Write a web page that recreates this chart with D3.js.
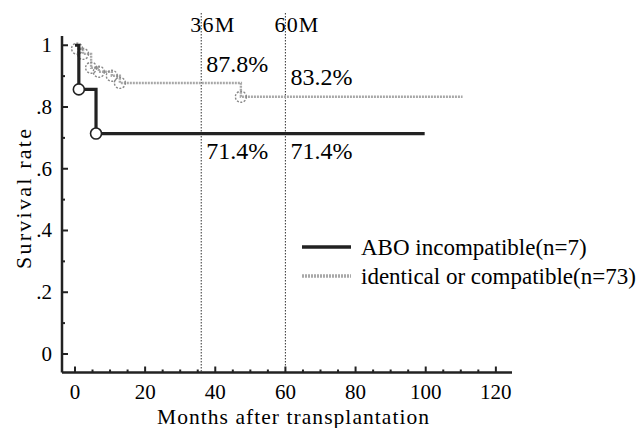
<!DOCTYPE html>
<html>
<head>
<meta charset="utf-8">
<script src="https://cdn.jsdelivr.net/npm/d3@7"></script>
<style>
  body { margin: 0; background: #fff; }
</style>
</head>
<body>
<div class="vis-km"></div>
<script>
// step data (months, survival after the event)
const aboMonths = [0, 1.1, 6.0, 99.7];
const aboSurv = [1, 0.857, 0.714, 0.714];
const compMonths = [0, 0.6, 2.3, 4.6, 6.8, 10.5, 12.8, 47.3, 110.5];
const compSurv = [1, 0.989, 0.972, 0.927, 0.914, 0.901, 0.878, 0.833, 0.833];

const refMonths = [36, 60];
const refLabels = ["36M", "60M"];
const compAtRef = ["87.8%", "83.2%"];
const aboAtRef = ["71.4%", "71.4%"];

const yTickVals = [0, 0.2, 0.4, 0.6, 0.8, 1];
const yTickLabels = ["0", ".2", ".4", ".6", ".8", "1"];
const xTickVals = [0, 20, 40, 60, 80, 100, 120];

const legendNames = ["ABO incompatible(n=7)", "identical or compatible(n=73)"];

const W = 640, H = 428;
const FONT = "'Liberation Serif', 'Times New Roman', Times, 'DejaVu Serif', serif";
const svg = d3.select('.vis-km').append('svg')
    .attr('width', W).attr('height', H)
    .attr('font-family', FONT)
    .style('font-family', FONT);

const x = d3.scaleLinear().domain([-3.7, 124.6]).range([62, 512]);
const y = d3.scaleLinear().domain([-0.06, 1.03]).range([372.5, 36]);

// reference lines at 36M / 60M
refMonths.forEach(function(m, i) {
    const lx = x(m);
    svg.append("line")
        .attr("x1", lx).attr("x2", lx)
        .attr("y1", 13).attr("y2", y(-0.06))
        .attr("stroke", "#444").attr("stroke-width", 1.1)
        .attr("stroke-dasharray", "1.5,1.5");
    svg.append("text").attr("x", lx - 11).attr("y", 32)
        .text(refLabels[i]).style("font-size", "22px")
        .attr("textLength", 44);
    svg.append("text").attr("x", lx + 5).attr("y", i === 0 ? 72 : 85)
        .text(compAtRef[i]).style("font-size", "24px");
    svg.append("text").attr("x", lx + 5).attr("y", 159)
        .text(aboAtRef[i]).style("font-size", "24px");
});

// axes
const yAxis = svg.append("g").attr("transform", "translate(" + x(-3.7) + ",0)");
yAxis.append("line").attr("y1", y(1.03)).attr("y2", y(-0.06))
    .attr("stroke", "#222").attr("stroke-width", 2.5);
d3.range(0, 1.01, 0.1).forEach(function(v, i) {
    yAxis.append("line").attr("x1", 0).attr("x2", i % 2 === 0 ? 6 : 3)
        .attr("y1", y(v)).attr("y2", y(v))
        .attr("stroke", "#222").attr("stroke-width", 2);
});
yTickVals.forEach(function(v, i) {
    yAxis.append("text").attr("x", -10).attr("y", y(v))
        .attr("text-anchor", "end").attr("dominant-baseline", "central")
        .text(yTickLabels[i]).style("font-size", "21px");
});

const xAxis = svg.append("g").attr("transform", "translate(0," + y(-0.06) + ")");
xAxis.append("line").attr("x1", x(-3.7)).attr("x2", x(124.6))
    .attr("stroke", "#222").attr("stroke-width", 2.5);
d3.range(0, 121, 5).forEach(function(v) {
    xAxis.append("line").attr("x1", x(v)).attr("x2", x(v))
        .attr("y1", 0).attr("y2", v % 20 === 0 ? -6 : -3)
        .attr("stroke", "#222").attr("stroke-width", 2);
});
xTickVals.forEach(function(v) {
    xAxis.append("text").attr("x", x(v)).attr("y", 26.5)
        .attr("text-anchor", "middle").text(v).style("font-size", "21px");
});

svg.append("text").attr("x", 293).attr("y", 424)
    .attr("text-anchor", "middle").text("Months after transplantation")
    .style("font-size", "21.5px").attr("textLength", 272);
svg.append("text").attr("transform", "translate(31,199) rotate(-90)")
    .attr("text-anchor", "middle").text("Survival rate")
    .style("font-size", "22px").attr("textLength", 140);

// survival curves
const step = d3.line().x(d => x(d[0])).y(d => y(d[1])).curve(d3.curveStepAfter);

const compPts = compMonths.map((m, i) => [m, compSurv[i]]);
svg.append("path").datum(compPts.slice(1))
    .attr("d", step).attr("fill", "none")
    .attr("stroke", "#a8a8a8").attr("stroke-width", 2.4)
    .attr("stroke-dasharray", "2,1");
svg.selectAll(".c-comp").data(compPts.slice(1, -1)).enter().append("circle")
    .attr("cx", d => x(d[0])).attr("cy", d => y(d[1])).attr("r", 5.5)
    .attr("fill", "none").attr("stroke", "#888").attr("stroke-width", 1.4)
    .attr("stroke-dasharray", "2,1.5");

const aboPts = aboMonths.map((m, i) => [m, aboSurv[i]]);
svg.append("path").datum(aboPts)
    .attr("d", step).attr("fill", "none")
    .attr("stroke", "#222").attr("stroke-width", 3.2);
svg.selectAll(".c-abo").data(aboPts.slice(1, -1)).enter().append("circle")
    .attr("cx", d => x(d[0])).attr("cy", d => y(d[1])).attr("r", 5.5)
    .attr("fill", "#fff").attr("stroke", "#222").attr("stroke-width", 1.6);

// handmade legend
const legColors = ["#222", "#a8a8a8"];
const legDash = [null, "2,1"];
legendNames.forEach(function(name, i) {
    const ly = 247 + i * 29;
    svg.append("line").attr("x1", 302).attr("x2", 351).attr("y1", ly).attr("y2", ly)
        .attr("stroke", legColors[i]).attr("stroke-width", 3.5)
        .attr("stroke-dasharray", legDash[i]);
    svg.append("text").attr("x", 361).attr("y", ly).attr("dominant-baseline", "central")
        .text(name).style("font-size", "23px");
});
</script>
</body>
</html>
